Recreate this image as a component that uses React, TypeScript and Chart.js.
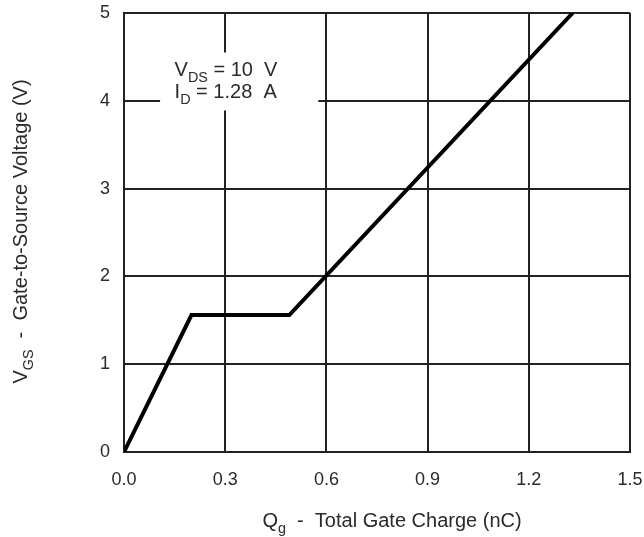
import React, { useEffect, useRef } from "react";
import { Chart, registerables } from "chart.js";

Chart.register(...registerables);

// Data (Q_g in nC, V_GS in V)
const chargeNC = [0, 0.2, 0.49, 1.33];
const gateVoltage = [0, 1.56, 1.56, 5];
const xTickValues = [0, 0.3, 0.6, 0.9, 1.2, 1.5];
const yTickValues = [0, 1, 2, 3, 4, 5];
const noteLine1 = [["V", false], ["DS", true], [" = 10  V", false]] as [string, boolean][];
const noteLine2 = [["I", false], ["D", true], [" = 1.28  A", false]] as [string, boolean][];
const xTitleParts = [["Q", false], ["g", true], ["  -  Total Gate Charge (nC)", false]] as [string, boolean][];
const yTitleParts = [["V", false], ["GS", true], ["  -  Gate-to-Source Voltage (V)", false]] as [string, boolean][];

const FONT = "Arial, 'Liberation Sans', Helvetica, sans-serif";
const TEXT_COLOR = "#2a2a2a";

function partsWidth(ctx: CanvasRenderingContext2D, parts: [string, boolean][], size: number) {
  let w = 0;
  for (const [t, sub] of parts) {
    ctx.font = `${sub ? size * 0.72 : size}px ${FONT}`;
    w += ctx.measureText(t).width;
  }
  return w;
}

function drawParts(ctx: CanvasRenderingContext2D, parts: [string, boolean][], x: number, y: number, size: number) {
  let cx = x;
  ctx.textBaseline = "alphabetic";
  ctx.textAlign = "left";
  for (const [t, sub] of parts) {
    const s = sub ? size * 0.72 : size;
    ctx.font = `${s}px ${FONT}`;
    ctx.fillText(t, cx, sub ? y + size * 0.28 : y);
    cx += ctx.measureText(t).width;
  }
}

const annotationPlugin = {
  id: "datasheetText",
  beforeDatasetsDraw(chart: any) {
    const { ctx, scales } = chart;
    const xs = scales.x;
    const ys = scales.y;
    const x1 = xs.getPixelForValue(0.107);
    const x2 = xs.getPixelForValue(0.576);
    const y1 = ys.getPixelForValue(4.55);
    const y2 = ys.getPixelForValue(3.89);
    ctx.save();
    ctx.fillStyle = "#ffffff";
    ctx.fillRect(x1, y1, x2 - x1, y2 - y1);
    ctx.fillStyle = TEXT_COLOR;
    const tx = xs.getPixelForValue(0.15);
    drawParts(ctx, noteLine1, tx, ys.getPixelForValue(4.28), 20);
    drawParts(ctx, noteLine2, tx, ys.getPixelForValue(4.03), 20);
    ctx.restore();
  },
  afterDraw(chart: any) {
    const { ctx, chartArea } = chart;
    ctx.save();
    ctx.fillStyle = TEXT_COLOR;
    const size = 20;
    // x title
    const wx = partsWidth(ctx, xTitleParts, size);
    const cx = (chartArea.left + chartArea.right) / 2 + 15;
    drawParts(ctx, xTitleParts, cx - wx / 2, 527, size);
    // y title
    const wy = partsWidth(ctx, yTitleParts, size);
    const cy = (chartArea.top + chartArea.bottom) / 2 - 1;
    ctx.translate(27, cy);
    ctx.rotate(-Math.PI / 2);
    drawParts(ctx, yTitleParts, -wy / 2, 0, size);
    ctx.restore();
  },
};

export default function App() {
  const ref = useRef<HTMLCanvasElement | null>(null);
  useEffect(() => {
    if (!ref.current) return;
    const chart = new Chart(ref.current, {
      type: "scatter",
      data: {
        datasets: [
          {
            data: chargeNC.map((q, i) => ({ x: q, y: gateVoltage[i] })),
            showLine: true,
            borderColor: "#000000",
            borderWidth: 4,
            pointRadius: 0,
            tension: 0,
            borderJoinStyle: "miter",
          } as any,
        ],
      },
      options: {
        animation: false,
        responsive: false,
        events: [],
        layout: { padding: { top: 13, right: 14, left: 0, bottom: 0 } },
        plugins: { legend: { display: false }, tooltip: { enabled: false } },
        scales: {
          x: {
            type: "linear",
            min: 0,
            max: 1.5,
            afterBuildTicks: (s: any) => {
              s.ticks = xTickValues.map((v) => ({ value: v }));
            },
            afterFit: (s: any) => {
              s.height = 85;
              s.paddingLeft = 0;
              s.paddingRight = 0;
            },
            ticks: {
              callback: (v: any) => Number(v).toFixed(1),
              color: TEXT_COLOR,
              font: { family: FONT, size: 18 },
              padding: 17,
              maxRotation: 0,
            },
            grid: { color: "#222222", lineWidth: 2, drawTicks: false },
            border: { display: true, color: "#222222", width: 2 },
          },
          y: {
            type: "linear",
            min: 0,
            max: 5,
            afterBuildTicks: (s: any) => {
              s.ticks = yTickValues.map((v) => ({ value: v }));
            },
            afterFit: (s: any) => {
              s.width = 124;
              s.paddingTop = 0;
              s.paddingBottom = 0;
            },
            ticks: {
              color: TEXT_COLOR,
              font: { family: FONT, size: 18 },
              padding: 14,
            },
            grid: { color: "#222222", lineWidth: 2, drawTicks: false },
            border: { display: true, color: "#222222", width: 2 },
          },
        },
      },
      plugins: [annotationPlugin],
    } as any);
    return () => chart.destroy();
  }, []);
  return (
    <div style={{ position: "fixed", left: 0, top: 0, width: 644, height: 537, background: "#fff" }}>
      <canvas ref={ref} width={644} height={537} style={{ width: 644, height: 537, display: "block" }} />
    </div>
  );
}
